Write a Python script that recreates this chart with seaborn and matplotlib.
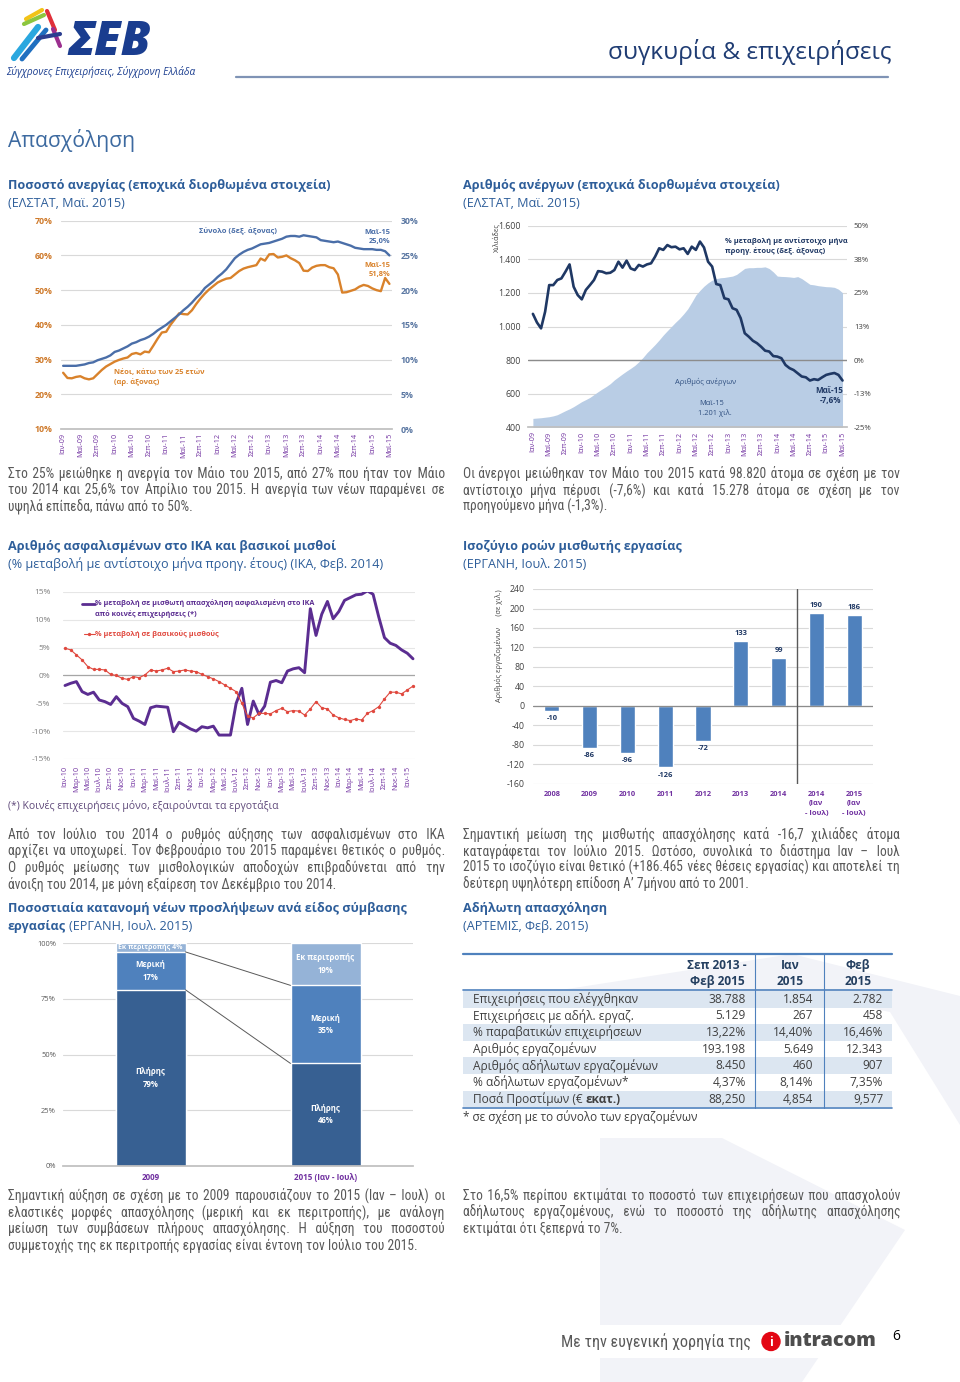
import unicodedata
import numpy as np
import pandas as pd
import matplotlib
matplotlib.use("Agg")
import matplotlib.pyplot as plt
import seaborn as sns
from matplotlib import font_manager as fm
from matplotlib.ft2font import FT2Font
from matplotlib.patches import Rectangle, Polygon, Circle

# ======================= DATA =======================
month_ticks_0915 = ['Ιαν-09', 'Μαϊ-09', 'Σεπ-09', 'Ιαν-10', 'Μαϊ-10', 'Σεπ-10', 'Ιαν-11', 'Μαϊ-11',
                    'Σεπ-11', 'Ιαν-12', 'Μαϊ-12', 'Σεπ-12', 'Ιαν-13', 'Μαϊ-13', 'Σεπ-13', 'Ιαν-14',
                    'Μαϊ-14', 'Σεπ-14', 'Ιαν-15', 'Μαϊ-15']
# Unemployment rate, youth (<25), monthly Jan-09 .. May-15 (left axis)
youth_rate = [26.2, 24.7, 24.6, 25.0, 25.2, 24.6, 24.3, 24.6, 25.8, 27.0, 28.0, 28.7,
              29.4, 29.9, 30.3, 30.6, 31.6, 31.9, 31.5, 32.3, 32.1, 34.0, 36.0, 37.8,
              38.0, 40.0, 41.6, 43.3, 43.1, 43.0, 44.2, 46.0, 47.6, 49.0, 50.2, 51.2,
              52.2, 52.8, 53.3, 53.5, 54.5, 55.5, 56.2, 56.6, 56.9, 57.2, 59.1, 58.5,
              60.3, 60.4, 59.4, 59.6, 60.0, 59.2, 58.6, 57.8, 55.6, 55.5, 56.5, 57.0,
              57.2, 57.2, 56.6, 56.3, 54.5, 49.3, 49.4, 49.8, 50.2, 51.0, 51.5, 51.2,
              50.5, 50.0, 49.7, 53.5, 51.8]
# Unemployment rate, total (right axis)
total_rate = [9.1, 9.1, 9.1, 9.1, 9.2, 9.3, 9.5, 9.6, 9.9, 10.1, 10.3, 10.6,
              11.1, 11.3, 11.6, 11.9, 12.3, 12.5, 12.8, 13.0, 13.3, 13.7, 14.2, 14.6,
              15.0, 15.5, 16.0, 16.5, 17.1, 17.6, 18.2, 18.9, 19.5, 20.3, 20.8, 21.3,
              21.9, 22.4, 23.0, 23.8, 24.6, 25.1, 25.5, 25.8, 26.0, 26.3, 26.6, 26.7,
              26.8, 27.0, 27.2, 27.4, 27.7, 27.8, 27.8, 27.7, 27.9, 27.8, 27.7, 27.6,
              27.2, 27.1, 27.0, 26.9, 27.0, 26.8, 26.6, 26.4, 26.1, 26.0, 25.9, 25.9,
              25.9, 25.8, 25.8, 25.6, 25.0]
# Number of unemployed (thousands)
unemployed_k = [453, 455, 457, 460, 463, 468, 475, 487, 499, 510, 523, 538,
                553, 565, 578, 595, 612, 628, 643, 660, 682, 700, 718, 735,
                751, 768, 790, 815, 844, 868, 893, 920, 949, 975, 1000, 1025,
                1048, 1075, 1105, 1145, 1187, 1215, 1240, 1260, 1276, 1285, 1290, 1292,
                1296, 1300, 1310, 1328, 1346, 1350, 1350, 1352, 1352, 1355, 1345, 1325,
                1300, 1298, 1297, 1295, 1292, 1297, 1285, 1268, 1251, 1248, 1243, 1240,
                1237, 1236, 1233, 1222, 1201]
# y/y % change of unemployed (right axis)
unemployed_yoy = [17.2, 14.0, 11.8, 18.0, 27.9, 27.9, 29.8, 30.4, 32.9, 35.6, 27.3, 24.2,
                  22.6, 26.1, 27.9, 29.8, 33.1, 32.9, 32.3, 32.5, 33.5, 36.6, 34.4, 37.0,
                  34.1, 33.5, 35.4, 34.8, 35.6, 36.0, 38.5, 41.6, 41.0, 42.8, 42.0, 42.2,
                  41.2, 41.6, 39.5, 42.2, 41.0, 44.1, 41.9, 36.6, 34.8, 28.3, 27.9, 23.0,
                  22.6, 19.3, 18.7, 15.6, 10.0, 8.7, 7.2, 6.3, 5.0, 3.5, 3.2, 1.5,
                  1.3, 0.7, -1.8, -3.0, -3.7, -4.9, -6.1, -6.4, -7.6, -7.1, -7.4, -6.4,
                  -5.5, -5.1, -4.8, -5.5, -7.6]
left2_ticks = ['400', '600', '800', '1.000', '1.200', '1.400', '1.600']
right2_ticks = ['-25%', '-13%', '0%', '13%', '25%', '38%', '50%']

month_ticks_1015 = ['Ιαν-10', 'Μαρ-10', 'Μαϊ-10', 'Ιουλ-10', 'Σεπ-10', 'Νοε-10',
                    'Ιαν-11', 'Μαρ-11', 'Μαϊ-11', 'Ιουλ-11', 'Σεπ-11', 'Νοε-11',
                    'Ιαν-12', 'Μαρ-12', 'Μαϊ-12', 'Ιουλ-12', 'Σεπ-12', 'Νοε-12',
                    'Ιαν-13', 'Μαρ-13', 'Μαϊ-13', 'Ιουλ-13', 'Σεπ-13', 'Νοε-13',
                    'Ιαν-14', 'Μαρ-14', 'Μαϊ-14', 'Ιουλ-14', 'Σεπ-14', 'Νοε-14', 'Ιαν-15']
# IKA insured employment y/y %, Jan-10 .. Feb-15
ika_yoy = [-1.8, -1.4, -1.1, -2.9, -3.4, -3.0, -4.4, -4.7, -5.2, -3.8,
           -5.0, -5.6, -7.7, -8.2, -8.8, -5.8, -5.5, -5.6, -5.7, -10.1,
           -8.4, -9.0, -9.6, -10.0, -9.2, -9.4, -9.1, -10.7, -10.7, -10.7,
           -5.0, -2.3, -8.8, -4.6, -7.0, -5.5, -1.2, -0.9, -1.3, 0.8,
           1.2, 1.4, 0.5, 12.0, 7.2, 11.0, 13.3, 10.2, 11.5, 13.5,
           14.0, 14.5, 14.6, 15.2, 14.6, 10.5, 6.8, 5.8, 5.4, 4.6,
           4.0, 3.0]
# Basic wages y/y %
wages_yoy = [4.9, 4.6, 3.7, 2.8, 1.6, 1.1, 1.1, 1.0, 0.2, 0.0,
             -0.5, -0.7, -0.2, -0.4, 0.1, 1.0, 0.8, 1.0, 1.3, 0.7,
             0.8, 1.0, 0.8, 0.7, 0.2, -0.2, -0.6, -1.1, -1.7, -2.3,
             -2.9, -5.0, -7.3, -7.6, -6.8, -6.8, -6.9, -6.3, -5.9, -6.5,
             -6.3, -6.4, -7.1, -6.0, -4.7, -5.8, -6.0, -7.1, -7.6, -7.9,
             -8.1, -7.8, -8.0, -6.8, -6.3, -5.6, -4.2, -3.0, -3.0, -3.3,
             -2.6, -1.9]
pct_ticks_15 = ['-15%', '-10%', '-5%', '0%', '5%', '10%', '15%']

flow_labels = ['2008', '2009', '2010', '2011', '2012', '2013', '2014',
               '2014\n(Ιαν\n- Ιουλ)', '2015\n(Ιαν\n- Ιουλ)']
flow_values = [-10, -86, -96, -126, -72, 133, 99, 190, 186]

contract_periods = ['2009', '2015 (Ιαν - Ιουλ)']
contract_full = [79, 46]
contract_part = [17, 35]
contract_rot = [4, 19]
pct_ticks_100 = ['0%', '25%', '50%', '75%', '100%']

table_rows = ['Επιχειρήσεις που ελέγχθηκαν', 'Επιχειρήσεις με αδήλ. εργαζ.',
              '% παραβατικών επιχειρήσεων', 'Αριθμός εργαζομένων',
              'Αριθμός αδήλωτων εργαζομένων', '% αδήλωτων εργαζομένων*',
              'Ποσά Προστίμων (€ ']
table_c1 = ['38.788', '5.129', '13,22%', '193.198', '8.450', '4,37%', '88,250']
table_c2 = ['1.854', '267', '14,40%', '5.649', '460', '8,14%', '4,854']
table_c3 = ['2.782', '458', '16,46%', '12.343', '907', '7,35%', '9,577']

assert len(youth_rate) == 77 and len(total_rate) == 77
assert len(unemployed_k) == 77 and len(unemployed_yoy) == 77
assert len(ika_yoy) == 62 and len(wages_yoy) == 62

# ======================= STYLE =======================
sns.set_theme(style='white')
names = {f.name for f in fm.fontManager.ttflist}
def pick(*c):
    for n in c:
        if n in names:
            return n
    return 'DejaVu Sans'
HEAD = pick('Open Sans', 'Noto Sans', 'Roboto')
BODY = pick('Roboto Condensed', 'Fira Sans Condensed', 'Liberation Sans Narrow', 'Noto Sans', 'Open Sans')
HF = [HEAD, 'DejaVu Sans']
BF = [BODY, 'DejaVu Sans']
plt.rcParams['font.family'] = HF
plt.rcParams['axes.unicode_minus'] = False

# a fine space character available in the body font (for justification)
try:
    _cm = FT2Font(fm.findfont(fm.FontProperties(family=BODY))).get_charmap()
except Exception:
    _cm = {}
FINE = None
for cp in (0x200A, 0x2009, 0x2006):
    if cp in _cm:
        FINE = chr(cp)
        break

ORANGE_LINE = '#d9822b'; ORANGE_TXT = '#cf7a2b'
BLUE_LINE = '#4a6ea8'; BLUE_TXT = '#5a77a2'
NAVY = '#1f3864'; AREA = '#b9cde5'
PURPLE_TXT = '#7030a0'; IKA_LINE = '#5b2d91'; RED = '#e0483e'
BAR = '#4f81bd'; FULL = '#376092'; PART = '#4f81bd'; ROT = '#95b3d7'
GRID = '#d9d9d9'; BODY_C = '#595959'; TITLE_C = '#2e5e9a'

W, H = 960, 1382
fig = plt.figure(figsize=(W / 100, H / 100), dpi=100, facecolor='white')
bg = fig.add_axes([0, 0, 1, 1], zorder=-5)
bg.set_xlim(0, W); bg.set_ylim(H, 0); bg.axis('off')
ov = fig.add_axes([0, 0, 1, 1], zorder=10)
ov.set_xlim(0, W); ov.set_ylim(H, 0); ov.axis('off')
R = fig.canvas.get_renderer()

def N(s):
    return unicodedata.normalize('NFC', s)

def tw(s, size, fam=HF, weight='normal', style='normal'):
    t = ov.text(0, 0, N(s), fontsize=size, family=fam, fontweight=weight, fontstyle=style)
    w = t.get_window_extent(renderer=R).width
    t.remove()
    return w

def fit(s, target, fam=HF, weight='normal', style='normal'):
    return 10.0 * target / tw(s, 10.0, fam, weight, style)

def T(x, y, s, size, color='#000000', weight='normal', ha='left', va='center',
      fam=None, style='normal', rot=0, z=5, ls=1.2):
    return ov.text(x, y, N(s), fontsize=size, color=color, fontweight=weight, ha=ha, va=va,
                   family=fam or HF, fontstyle=style, rotation=rot, zorder=z, linespacing=ls)

def axbox(x0, y0, x1, y1):
    a = fig.add_axes([x0 / W, 1 - y1 / H, (x1 - x0) / W, (y1 - y0) / H])
    a.set_facecolor('none')
    return a

def clean(a):
    for s in a.spines.values():
        s.set_visible(False)
    a.tick_params(length=0)
    a.set_xlabel(''); a.set_ylabel('')

# ---------------- watermark ----------------
WM = '#f2f3f8'
bg.add_patch(Polygon([(548, 992), (792, 954), (960, 996), (960, 1125), (890, 1012), (790, 992)],
                     closed=True, color=WM, lw=0))
bg.add_patch(Polygon([(600, 1138), (722, 1138), (905, 1230), (802, 1382), (600, 1382)],
                     closed=True, color=WM, lw=0))

# ---------------- header ----------------
for (xa, ya, xb, yb, c, lw) in [(14, 58, 38, 27, '#2aa7df', 4.5), (22, 59, 46, 30, '#1f6fc0', 3.5),
                                (26, 19, 42, 10, '#f2c318', 3), (24, 24, 44, 15, '#8cc63f', 3),
                                (47, 11, 55, 30, '#e0303a', 3), (53, 29, 60, 46, '#9b2f8f', 3),
                                (38, 38, 60, 34, '#2c3e90', 3)]:
    ov.plot([xa, xb], [ya, yb], color=c, lw=lw, solid_capstyle='round', zorder=4)
s_logo = min(fit('ΣΕΒ', 114, HF, 'heavy', 'italic'), 34)
T(68, 55, 'ΣΕΒ', s_logo, '#1a3d8f', 'heavy', va='baseline', style='italic')
T(6, 72, 'Σύγχρονες Επιχειρήσεις, Σύγχρονη Ελλάδα',
  fit('Σύγχρονες Επιχειρήσεις, Σύγχρονη Ελλάδα', 190, HF, 'normal', 'italic'),
  '#1a3d8f', style='italic')
T(891, 52, 'συγκυρία & επιχειρήσεις', fit('συγκυρία & επιχειρήσεις', 283), '#1f3c73', ha='right')
ov.plot([236, 888], [77, 77], color='#7f93b5', lw=1.6, zorder=4)
T(8, 140, 'Απασχόληση', fit('Απασχόληση', 127), '#3d6aa0')

TS = fit('Ποσοστό ανεργίας (εποχικά διορθωμένα στοιχεία)', 322, HF, 'bold')
def title(x, y, t1, t2):
    T(x, y, t1, TS, TITLE_C, 'bold')
    T(x, y + 18, t2, TS, TITLE_C)

title(8, 185, 'Ποσοστό ανεργίας (εποχικά διορθωμένα στοιχεία)', '(ΕΛΣΤΑΤ, Μαϊ. 2015)')
title(463, 185, 'Αριθμός ανέργων (εποχικά διορθωμένα στοιχεία)', '(ΕΛΣΤΑΤ, Μαϊ. 2015)')
title(8, 546, 'Αριθμός ασφαλισμένων στο ΙΚΑ και βασικοί μισθοί',
      '(% μεταβολή με αντίστοιχο μήνα προηγ. έτους) (ΙΚΑ, Φεβ. 2014)')
title(463, 546, 'Ισοζύγιο ροών μισθωτής εργασίας', '(ΕΡΓΑΝΗ, Ιουλ. 2015)')
T(8, 908, 'Ποσοστιαία κατανομή νέων προσλήψεων ανά είδος σύμβασης', TS, TITLE_C, 'bold')
T(8, 926, 'εργασίας', TS, TITLE_C, 'bold')
T(8 + tw('εργασίας ', TS, HF, 'bold'), 926, '(ΕΡΓΑΝΗ, Ιουλ. 2015)', TS, TITLE_C)
title(463, 908, 'Αδήλωτη απασχόληση', '(ΑΡΤΕΜΙΣ, Φεβ. 2015)')

# ---------------- paragraphs ----------------
P = {
    'p1': (8, 445, 472.7, ['Στο 25% μειώθηκε η ανεργία τον Μάιο του 2015, από 27% που ήταν τον Μάιο',
                           'του 2014 και 25,6% τον Απρίλιο του 2015. Η ανεργία των νέων παραμένει σε',
                           'υψηλά επίπεδα, πάνω από το 50%.']),
    'p2': (463, 900, 472.7, ['Οι άνεργοι μειώθηκαν τον Μάιο του 2015 κατά 98.820 άτομα σε σχέση με τον',
                             'αντίστοιχο μήνα πέρυσι (-7,6%) και κατά 15.278 άτομα σε σχέση με τον',
                             'προηγούμενο μήνα (-1,3%).']),
    'p3': (8, 445, 834, ['Από τον Ιούλιο του 2014 ο ρυθμός αύξησης των ασφαλισμένων στο ΙΚΑ',
                         'αρχίζει να υποχωρεί. Τον Φεβρουάριο του 2015 παραμένει θετικός ο ρυθμός.',
                         'Ο ρυθμός μείωσης των μισθολογικών αποδοχών επιβραδύνεται από την',
                         'άνοιξη του 2014, με μόνη εξαίρεση τον Δεκέμβριο του 2014.']),
    'p4': (463, 900, 834, ['Σημαντική μείωση της μισθωτής απασχόλησης κατά -16,7 χιλιάδες άτομα',
                           'καταγράφεται τον Ιούλιο 2015. Ωστόσο, συνολικά το διάστημα Ιαν – Ιουλ',
                           '2015 το ισοζύγιο είναι θετικό (+186.465 νέες θέσεις εργασίας) και αποτελεί τη',
                           'δεύτερη υψηλότερη επίδοση Α’ 7μήνου από το 2001.']),
    'p5': (8, 445, 1195, ['Σημαντική αύξηση σε σχέση με το 2009 παρουσιάζουν το 2015 (Ιαν – Ιουλ) οι',
                          'ελαστικές μορφές απασχόλησης (μερική και εκ περιτροπής), με ανάλογη',
                          'μείωση των συμβάσεων πλήρους απασχόλησης. Η αύξηση του ποσοστού',
                          'συμμετοχής της εκ περιτροπής εργασίας είναι έντονη τον Ιούλιο του 2015.']),
    'p6': (463, 900, 1195, ['Στο 16,5% περίπου εκτιμάται το ποσοστό των επιχειρήσεων που απασχολούν',
                            'αδήλωτους εργαζομένους, ενώ το ποσοστό της αδήλωτης απασχόλησης',
                            'εκτιμάται ότι ξεπερνά το 7%.']),
}
cands = []
for k, (x0, x1, y0, lines) in P.items():
    for ln in lines[:-1]:
        cands.append(10.0 * (x1 - x0) / tw(ln, 10.0, BF))
BS = min(10.0, min(cands) * 0.99)
base_off = 0.36 * BS * 100 / 72

if FINE is not None:
    FINE_W = (tw('a' + FINE * 20 + 'a', BS, BF) - tw('aa', BS, BF)) / 20.0
else:
    FINE_W = 0.0

def justified(line, target):
    """Return the line as one string, widened with fine spaces to the target width."""
    words = line.split(' ')
    ngap = len(words) - 1
    base = ' '.join(words)
    extra = target - tw(base, BS, BF)
    if FINE_W <= 0 or extra <= 0 or ngap <= 0:
        return base
    n = int(round(extra / FINE_W))
    out = words[0]
    for g in range(ngap):
        k = (g + 1) * n // ngap - g * n // ngap
        out += ' ' + FINE * k + words[g + 1]
    return out

for k, (x0, x1, y0, lines) in P.items():
    for i, ln in enumerate(lines):
        y = y0 + i * 16.6 + base_off
        s = ln if i == len(lines) - 1 else justified(ln, x1 - x0)
        T(x0, y, s, BS, BODY_C, va='baseline', fam=BF)

# ======================= CHART 1 =======================
x1 = np.arange(len(youth_rate))
a1 = axbox(61, 220.7, 392, 429)
a1.yaxis.grid(True, color=GRID, lw=0.8); a1.set_axisbelow(True)
sns.lineplot(x=x1, y=youth_rate, ax=a1, color=ORANGE_LINE, linewidth=1.7)
a1.set_xlim(-0.5, 76.6); a1.set_ylim(10, 70)
a1.set_yticks(range(10, 71, 10))
a1.set_yticklabels(['10%', '20%', '30%', '40%', '50%', '60%', '70%'],
                   color=ORANGE_TXT, fontsize=6.3, fontweight='bold')
a1.set_xticks(range(0, 77, 4))
a1.set_xticklabels(month_ticks_0915, rotation=90, color=PURPLE_TXT, fontsize=5.2)
clean(a1)
a1.spines['bottom'].set_visible(True); a1.spines['bottom'].set_color('#bfbfbf')
a1.tick_params(axis='y', pad=6); a1.tick_params(axis='x', pad=3)
a1b = a1.twinx(); a1b.set_facecolor('none')
sns.lineplot(x=x1, y=total_rate, ax=a1b, color=BLUE_LINE, linewidth=1.7)
a1b.set_ylim(0, 30); a1b.set_yticks(range(0, 31, 5))
a1b.set_yticklabels(['0%', '5%', '10%', '15%', '20%', '25%', '30%'],
                    color=BLUE_TXT, fontsize=6.3, fontweight='bold')
clean(a1b); a1b.tick_params(axis='y', pad=6)
A = 5.4
T(199, 231, 'Σύνολο (δεξ. άξονας)', A, BLUE_LINE, 'bold')
T(390, 232, 'Μαϊ-15', A, BLUE_LINE, 'bold', ha='right')
T(390, 241.7, '25,0%', A, BLUE_LINE, 'bold', ha='right')
T(390, 265, 'Μαϊ-15', A, ORANGE_LINE, 'bold', ha='right')
T(390, 274.3, '51,8%', A, ORANGE_LINE, 'bold', ha='right')
T(114, 372.7, 'Νέοι, κάτω των 25 ετών', A, ORANGE_LINE, 'bold')
T(114, 382.3, '(αρ. άξονας)', A, ORANGE_LINE, 'bold')

# ======================= CHART 2 =======================
a2 = axbox(528, 225.7, 847, 427.3)
a2.yaxis.grid(True, color=GRID, lw=0.8); a2.set_axisbelow(True)
a2.fill_between(x1, 400, unemployed_k, color=AREA, lw=0, zorder=2)
a2.set_xlim(-1.2, 77.1); a2.set_ylim(400, 1600)
a2.set_yticks(range(400, 1601, 200))
a2.set_yticklabels(left2_ticks, color='#404040', fontsize=6.3)
a2.set_xticks(range(0, 77, 4))
a2.set_xticklabels(month_ticks_0915, rotation=90, color=PURPLE_TXT, fontsize=5.2)
clean(a2)
a2.spines['bottom'].set_visible(True); a2.spines['bottom'].set_color('#bfbfbf')
a2.tick_params(axis='y', pad=5); a2.tick_params(axis='x', pad=3)
a2b = a2.twinx(); a2b.set_facecolor('none')
a2b.axhline(0, color='#8c8c8c', lw=1.0, zorder=1)
sns.lineplot(x=x1, y=unemployed_yoy, ax=a2b, color=NAVY, linewidth=1.9)
a2b.set_ylim(-25, 50)
a2b.set_yticks([-25, -12.5, 0, 12.5, 25, 37.5, 50])
a2b.set_yticklabels(right2_ticks, color='#404040', fontsize=5.6)
clean(a2b); a2b.tick_params(axis='y', pad=5)
T(497, 223, 'Χιλιάδες', 5.2, '#404040', rot=90, ha='center', va='top')
T(725, 240.7, '% μεταβολή με αντίστοιχο μήνα', A, NAVY, 'bold')
T(725, 250.7, 'προηγ. έτους (δεξ. άξονας)', A, NAVY, 'bold')
T(705.7, 381.7, 'Αριθμός ανέργων', A, '#2f4f80', ha='center')
T(711.7, 403, 'Μαϊ-15', A, '#2f4f80', ha='center')
T(715, 413, '1.201 χιλ.', A, '#2f4f80', ha='center')
T(829, 390, 'Μαϊ-15', 5.8, NAVY, 'bold', ha='center')
T(830, 400, '-7,6%', 5.8, NAVY, 'bold', ha='center')

# ======================= CHART 3 =======================
x3 = np.arange(len(ika_yoy))
a3 = axbox(63, 592, 415, 759)
a3.yaxis.grid(True, color='#e6e6e6', lw=0.8); a3.set_axisbelow(True)
a3.axhline(0, color='#a6a6a6', lw=0.9, zorder=1)
sns.lineplot(x=x3, y=ika_yoy, ax=a3, color=IKA_LINE, linewidth=2.1)
sns.lineplot(x=x3, y=wages_yoy, ax=a3, color=RED, linewidth=0.8, marker='o',
             markersize=2.4, markeredgewidth=0)
a3.set_xlim(-0.35, 61.35); a3.set_ylim(-15, 15)
a3.set_yticks(range(-15, 16, 5))
a3.set_yticklabels(pct_ticks_15, color='#7f7f7f', fontsize=6.0)
a3.set_xticks(range(0, 61, 2))
a3.set_xticklabels(month_ticks_1015, rotation=90, color=PURPLE_TXT, fontsize=5.2)
clean(a3)
a3.tick_params(axis='y', pad=9); a3.tick_params(axis='x', pad=5)
ov.plot([82, 95], [603.5, 603.5], color=IKA_LINE, lw=2.0, zorder=5)
T(95, 603.5, '% μεταβολή σε μισθωτή απασχόληση ασφαλισμένη στο ΙΚΑ', 5.2, IKA_LINE, 'bold')
T(95, 614.5, 'από κοινές επιχειρήσεις (*)', 5.2, IKA_LINE, 'bold')
ov.plot([84, 95], [634, 634], color=RED, lw=0.8, zorder=5)
ov.plot([89], [634], 'o', color=RED, ms=2.4, mew=0, zorder=5)
T(95, 634, '% μεταβολή σε βασικούς μισθούς', 5.2, RED, 'bold')
fn = '(*) Κοινές επιχειρήσεις μόνο, εξαιρούνται τα εργοτάξια'
T(8, 806, fn, fit(fn, 268), '#604a7b')

# ======================= CHART 4 =======================
a4 = axbox(533, 589, 873, 784)
a4.yaxis.grid(True, color=GRID, lw=0.8); a4.set_axisbelow(True)
df4 = pd.DataFrame({'year': flow_labels, 'v': flow_values})
sns.barplot(data=df4, x='year', y='v', color=BAR, width=0.4, saturation=1,
            errorbar=None, ax=a4, zorder=2)
a4.axhline(0, color='#8c8c8c', lw=0.9, zorder=3)
a4.axvline(6.5, color='#595959', lw=1.0, zorder=3)
a4.set_xlim(-0.5, 8.5); a4.set_ylim(-160, 240)
a4.set_yticks(range(-160, 241, 40))
a4.set_yticklabels([str(v) for v in range(-160, 241, 40)], color='#404040', fontsize=6.3)
a4.set_xticks(range(len(flow_labels)))
a4.set_xticklabels(flow_labels, color=PURPLE_TXT, fontsize=5.4, fontweight='bold',
                   linespacing=1.5, va='top')
clean(a4)
a4.tick_params(axis='y', pad=6); a4.tick_params(axis='x', pad=5)
for i, v in enumerate(flow_values):
    a4.annotate(str(v), (i, v), xytext=(0, 3 if v > 0 else -3), textcoords='offset points',
                ha='center', va='bottom' if v > 0 else 'top', fontsize=5.4,
                fontweight='bold', color=NAVY)
T(499, 646, 'Αριθμός εργαζομένων      (σε χιλ.)', 5.2, '#404040', rot=90, ha='center')

# ======================= CHART 5 =======================
a5 = axbox(63, 943, 413, 1166)
a5.yaxis.grid(True, color=GRID, lw=0.8); a5.set_axisbelow(True)
tot = [f + p + r for f, p, r in zip(contract_full, contract_part, contract_rot)]
fp = [f + p for f, p in zip(contract_full, contract_part)]
df5 = pd.DataFrame({'period': contract_periods, 'tot': tot, 'fp': fp, 'full': contract_full})
for col, c in [('tot', ROT), ('fp', PART), ('full', FULL)]:
    sns.barplot(data=df5, x='period', y=col, color=c, width=0.4, saturation=1,
                errorbar=None, ax=a5, zorder=2)
a5.plot([0.2, 0.8], [fp[0], fp[1]], color='#595959', lw=0.7, zorder=3)
a5.plot([0.2, 0.8], [contract_full[0], contract_full[1]], color='#595959', lw=0.7, zorder=3)
a5.set_xlim(-0.5, 1.5); a5.set_ylim(0, 100)
a5.set_yticks([0, 25, 50, 75, 100])
a5.set_yticklabels(pct_ticks_100, color='#595959', fontsize=5.4)
a5.set_xticks([0, 1])
a5.set_xticklabels(contract_periods, color=PURPLE_TXT, fontsize=5.8, fontweight='bold')
clean(a5)
a5.spines['bottom'].set_visible(True); a5.spines['bottom'].set_color('#bfbfbf')
a5.tick_params(axis='y', pad=5); a5.tick_params(axis='x', pad=5)
LS = 5.6
def seg_label(i, y, txt, size=LS):
    a5.text(i, y, N(txt), ha='center', va='center', color='white', fontsize=size,
            fontweight='bold', zorder=4, linespacing=1.5)
top0 = f'Εκ περιτροπής {contract_rot[0]}%'
seg_label(0, fp[0] + contract_rot[0] / 2, top0, min(LS, fit(top0, 64, HF, 'bold')))
seg_label(0, contract_full[0] + contract_part[0] / 2, f'Μερική\n{contract_part[0]}%')
seg_label(0, contract_full[0] / 2, f'Πλήρης\n{contract_full[0]}%')
seg_label(1, fp[1] + contract_rot[1] / 2, f'Εκ περιτροπής\n{contract_rot[1]}%')
seg_label(1, contract_full[1] + contract_part[1] / 2, f'Μερική\n{contract_part[1]}%')
seg_label(1, contract_full[1] / 2, f'Πλήρης\n{contract_full[1]}%')

# ======================= TABLE =======================
TBS = fit('Επιχειρήσεις που ελέγχθηκαν', 164)
TB_BLUE = '#4f81bd'
row_y = [999.3 + i * 16.62 for i in range(len(table_rows))]
for i, y in enumerate(row_y):
    if i % 2 == 0:
        ov.add_patch(Rectangle((463, y - 8.31), 429, 16.62, color='#dce6f1', lw=0, zorder=2))
ov.plot([463, 892], [954, 954], color=TB_BLUE, lw=1.6, zorder=3)
ov.plot([463, 892], [989.5, 989.5], color=TB_BLUE, lw=1.2, zorder=3)
ov.plot([463, 892], [1107.5, 1107.5], color=TB_BLUE, lw=1.2, zorder=3)
for xv in (755, 824):
    ov.plot([xv, xv], [954, 1107.5], color=TB_BLUE, lw=0.8, zorder=3)
hdr_x = [717, 790, 858]
hdr = [('Σεπ 2013 -', 'Φεβ 2015'), ('Ιαν', '2015'), ('Φεβ', '2015')]
for hx, (l1, l2) in zip(hdr_x, hdr):
    T(hx, 965, l1, TBS, '#243f60', 'bold', ha='center')
    T(hx, 981, l2, TBS, '#243f60', 'bold', ha='center')
for i, y in enumerate(row_y):
    T(473, y, table_rows[i], TBS, '#404040')
    if i == len(table_rows) - 1:
        T(473 + tw(table_rows[i], TBS), y, 'εκατ.)', TBS, '#404040', 'bold')
    T(746, y, table_c1[i], TBS, '#404040', ha='right')
    T(813, y, table_c2[i], TBS, '#404040', ha='right')
    T(883, y, table_c3[i], TBS, '#404040', ha='right')
tf = '* σε σχέση με το σύνολο των εργαζομένων'
T(463, 1117, tf, fit(tf, 236), '#404040')

# ======================= FOOTER =======================
ov.add_patch(Rectangle((553, 1325), 332, 33, color='white', lw=0, zorder=2))
ft = 'Με την ευγενική χορηγία της'
T(561, 1342, ft, fit(ft, 189, BF), '#595959', fam=BF)
ov.add_patch(Circle((771, 1341.5), 9, color='#e30613', zorder=3))
T(771, 1342, 'i', 9, 'white', 'bold', ha='center', z=6)
T(784, 1341, 'intracom', fit('intracom', 93, HF, 'heavy'), '#4d4d4d', 'heavy')
T(896, 1336, '6', 10, '#000000', ha='center')

fig.savefig('out.png', dpi=100, facecolor='white')
